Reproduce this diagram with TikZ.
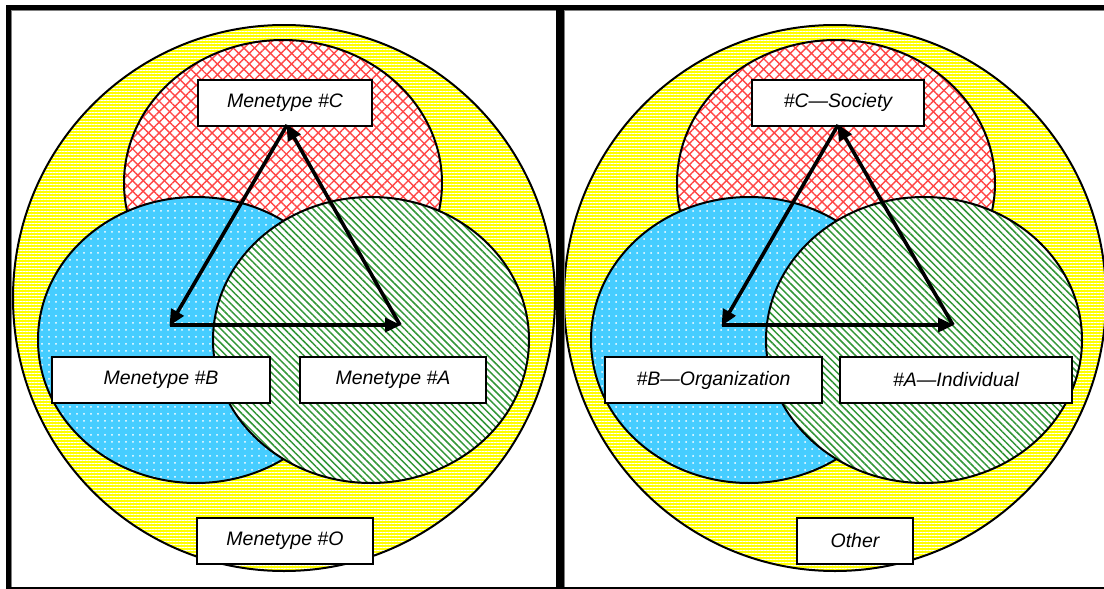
\documentclass[tikz,border=0pt]{standalone}
\usepackage{fontspec}
\setmainfont{Liberation Sans}
\usetikzlibrary{patterns.meta,arrows.meta}

\definecolor{sunyellow}{RGB}{255,255,0}
\definecolor{hatchred}{RGB}{255,70,70}
\definecolor{skyblue}{RGB}{70,205,255}
\definecolor{leafgreen}{RGB}{50,150,55}

\tikzset{
  rim/.style={draw=black, line width=2pt},
  tag/.style={draw=black, line width=2pt, fill=white, inner sep=0pt,
    minimum height=46pt, font=\fontsize{19.5}{22}\selectfont\itshape},
  link/.style={line width=3.6pt, -{Triangle[length=16pt,width=14pt]}, shorten >=-1pt},
  frame/.style={fill=black},
}

\begin{document}
\begin{tikzpicture}[x=1pt,y=-1pt]
\useasboundingbox (0,0) rectangle (1104,589);
\fill[white] (0,0) rectangle (1104,589);

% the four sets of each panel, drawn back to front
\foreach \ox/\yx in {0/284,553/835} {
  \begin{scope}[xshift=\ox pt]
    % outer set: yellow with fine white streaks
    \fill[sunyellow] (\yx-\ox,298) ellipse [x radius=271pt, y radius=273pt];
    \fill[pattern={Lines[distance=3pt,line width=0.6pt]}, pattern color=white]
      (\yx-\ox,298) ellipse [x radius=271pt, y radius=273pt];
    \draw[rim] (\yx-\ox,298) ellipse [x radius=271pt, y radius=273pt];
    % top set: red cross-hatch
    \fill[white] (283,183) ellipse [x radius=159pt, y radius=143pt];
    \fill[pattern={Lines[angle=45,distance=7.5pt,line width=1.4pt]}, pattern color=hatchred]
      (283,183) ellipse [x radius=159pt, y radius=143pt];
    \fill[pattern={Lines[angle=-45,distance=7.5pt,line width=1.4pt]}, pattern color=hatchred]
      (283,183) ellipse [x radius=159pt, y radius=143pt];
    \draw[rim] (283,183) ellipse [x radius=159pt, y radius=143pt];
    % left set: blue with white dots
    \fill[skyblue] (196,340) ellipse [x radius=158pt, y radius=143pt];
    \fill[pattern={Dots[distance=7pt,radius=1pt]}, pattern color=white]
      (196,340) ellipse [x radius=158pt, y radius=143pt];
    \draw[rim] (196,340) ellipse [x radius=158pt, y radius=143pt];
    % right set: green diagonal stripes
    \fill[white] (371,340) ellipse [x radius=158pt, y radius=143pt];
    \fill[pattern={Lines[angle=-45,distance=5pt,line width=1.5pt]}, pattern color=leafgreen]
      (371,340) ellipse [x radius=158pt, y radius=143pt];
    \draw[rim] (371,340) ellipse [x radius=158pt, y radius=143pt];
  \end{scope}
}

% panel frame
\fill[frame] (6,5) rectangle (1104,9.5);
\fill[frame] (6,5) rectangle (11,589);
\fill[frame] (556,5) rectangle (564,589);
\fill[frame] (6,587) rectangle (1104,589);
\draw[gray, line width=0.8pt] (11.4,10) -- (556,10);
\draw[gray, line width=0.8pt] (11.4,10) -- (11.4,587);
\draw[gray, line width=0.8pt] (564.4,10) -- (1104,10);
\draw[gray, line width=0.8pt] (564.4,10) -- (564.4,587);

% triangle corners
\coordinate (lc) at (287,125);
\coordinate (lb) at (170,325);
\coordinate (la) at (400,325);
\coordinate (rc) at (838,125);
\coordinate (rb) at (722,325);
\coordinate (ra) at (953,325);

% left panel labels
\node[tag, minimum width=174pt] (menc) at (285,102.5) {Menetype \#C};
\node[tag, minimum width=218pt] (menb) at (161,380) {Menetype \#B};
\node[tag, minimum width=186pt] (mena) at (393,380) {Menetype \#A};
\node[tag, minimum width=176pt] (meno) at (285,541) {Menetype \#O};

% right panel labels
\node[tag, minimum width=172pt] (soc) at (838,102.5) {\#C—Society};
\node[tag, minimum width=217pt] (org) at (713.5,380) {\#B—Organization};
\node[tag, minimum width=232pt] (ind) at (956,380) {\#A—Individual};
\node[tag, minimum width=116pt] (oth) at (855,541) {Other};

% cycles C -> B -> A -> C
\draw[link] (lc) -- (lb);
\draw[link] (lb) -- (la);
\draw[link] (la) -- (lc);
\draw[link] (rc) -- (rb);
\draw[link] (rb) -- (ra);
\draw[link] (ra) -- (rc);
\end{tikzpicture}
\end{document}
